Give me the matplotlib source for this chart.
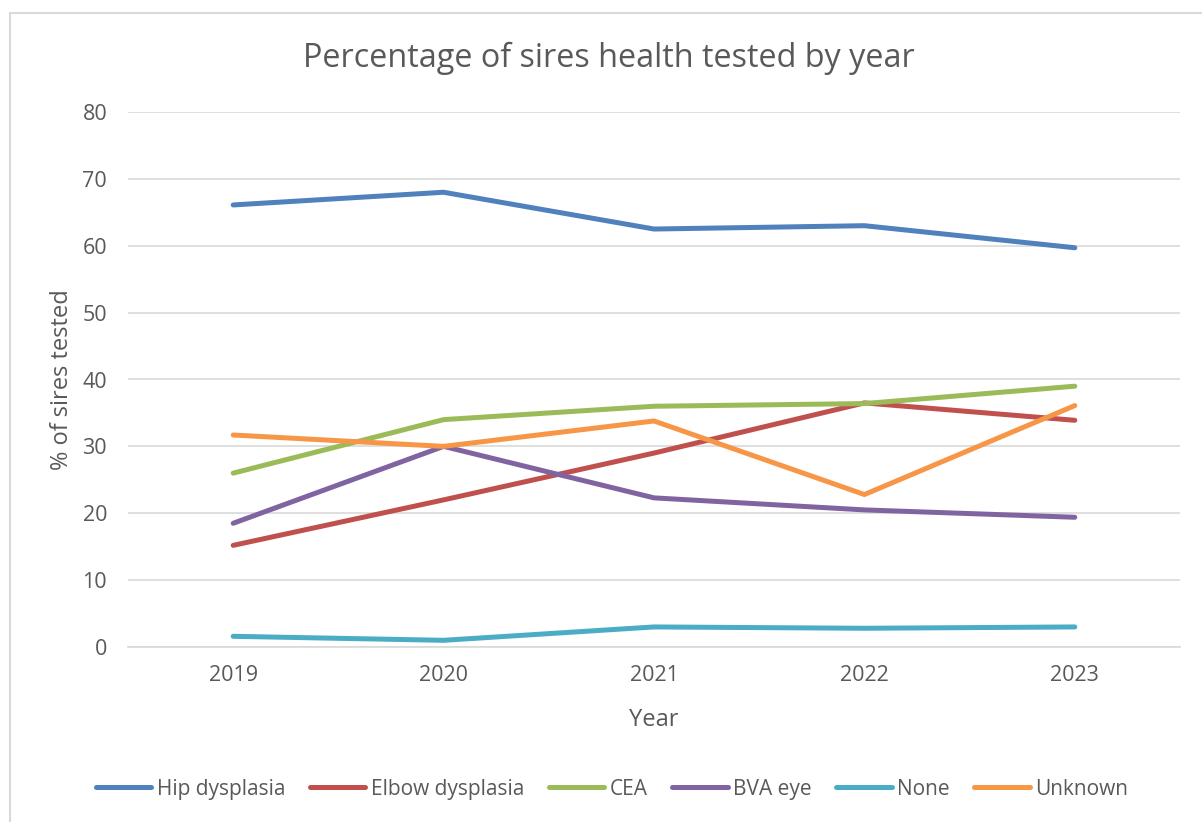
import matplotlib
matplotlib.use("Agg")
import matplotlib.pyplot as plt
from matplotlib.patches import Rectangle

years = ["2019", "2020", "2021", "2022", "2023"]
hip = [66.1, 68.0, 62.5, 63.0, 59.7]
elbow = [15.2, 22.0, 29.0, 36.5, 33.9]
cea = [26.0, 34.0, 36.0, 36.4, 39.0]
bva = [18.5, 30.0, 22.3, 20.5, 19.4]
none = [1.6, 1.0, 3.0, 2.8, 3.0]
unknown = [31.7, 30.0, 33.8, 22.8, 36.1]

series_names = ["Hip dysplasia", "Elbow dysplasia", "CEA", "BVA eye", "None", "Unknown"]
colors = ["#4F81BD", "#C0504D", "#9BBB59", "#8064A2", "#4BACC6", "#F79646"]
yticks = [0, 10, 20, 30, 40, 50, 60, 70, 80]

plt.rcParams['font.family'] = ['Open Sans', 'DejaVu Sans']
txt = "#595959"

W, H = 1202, 822
fig = plt.figure(figsize=(W / 100, H / 100), dpi=100)
fig.patches.append(Rectangle((10 / W, -0.1), 1.2, (822 - 13) / H + 0.1, transform=fig.transFigure,
                             fill=False, edgecolor="#D9D9D9", linewidth=1.5))

ax = fig.add_axes([128 / W, (H - 647) / H, (1180 - 128) / W, (647 - 112) / H])
x = list(range(len(years)))
for data, name, c in zip([hip, elbow, cea, bva, none, unknown], series_names, colors):
    ax.plot(x, data, color=c, lw=3.6, solid_capstyle="round", solid_joinstyle="round", label=name)

ax.set_xlim(-0.5, len(years) - 0.5)
ax.set_ylim(0, 80)
ax.set_yticks(yticks)
ax.set_xticks(x)
ax.set_xticklabels(years)
ax.grid(axis="y", color="#D9D9D9", lw=1.2)
ax.set_axisbelow(True)
for s in ["top", "right", "left"]:
    ax.spines[s].set_visible(False)
ax.spines["bottom"].set_color("#D9D9D9")
ax.spines["bottom"].set_linewidth(1.2)
ax.tick_params(axis="both", length=0, labelsize=15.5, labelcolor=txt)
ax.tick_params(axis="y", pad=15)
ax.tick_params(axis="x", pad=13)

ax.set_xlabel("Year", fontsize=17, color=txt, labelpad=16)
fig.text(62 / W, 1 - 380 / H, "% of sires tested", rotation=90, fontsize=17, color=txt,
         ha="center", va="center")
fig.text(609 / W, 1 - 58 / H, "Percentage of sires health tested by year", fontsize=23.3,
         color=txt, ha="center", va="center")

leg = fig.legend(loc="center", bbox_to_anchor=(612 / W, 1 - 789 / H), ncol=6, frameon=False,
                 fontsize=15, handlelength=2.65, columnspacing=1.2, handletextpad=0.25)
for t in leg.get_texts():
    t.set_color(txt)

fig.savefig("out.png", dpi=100)
